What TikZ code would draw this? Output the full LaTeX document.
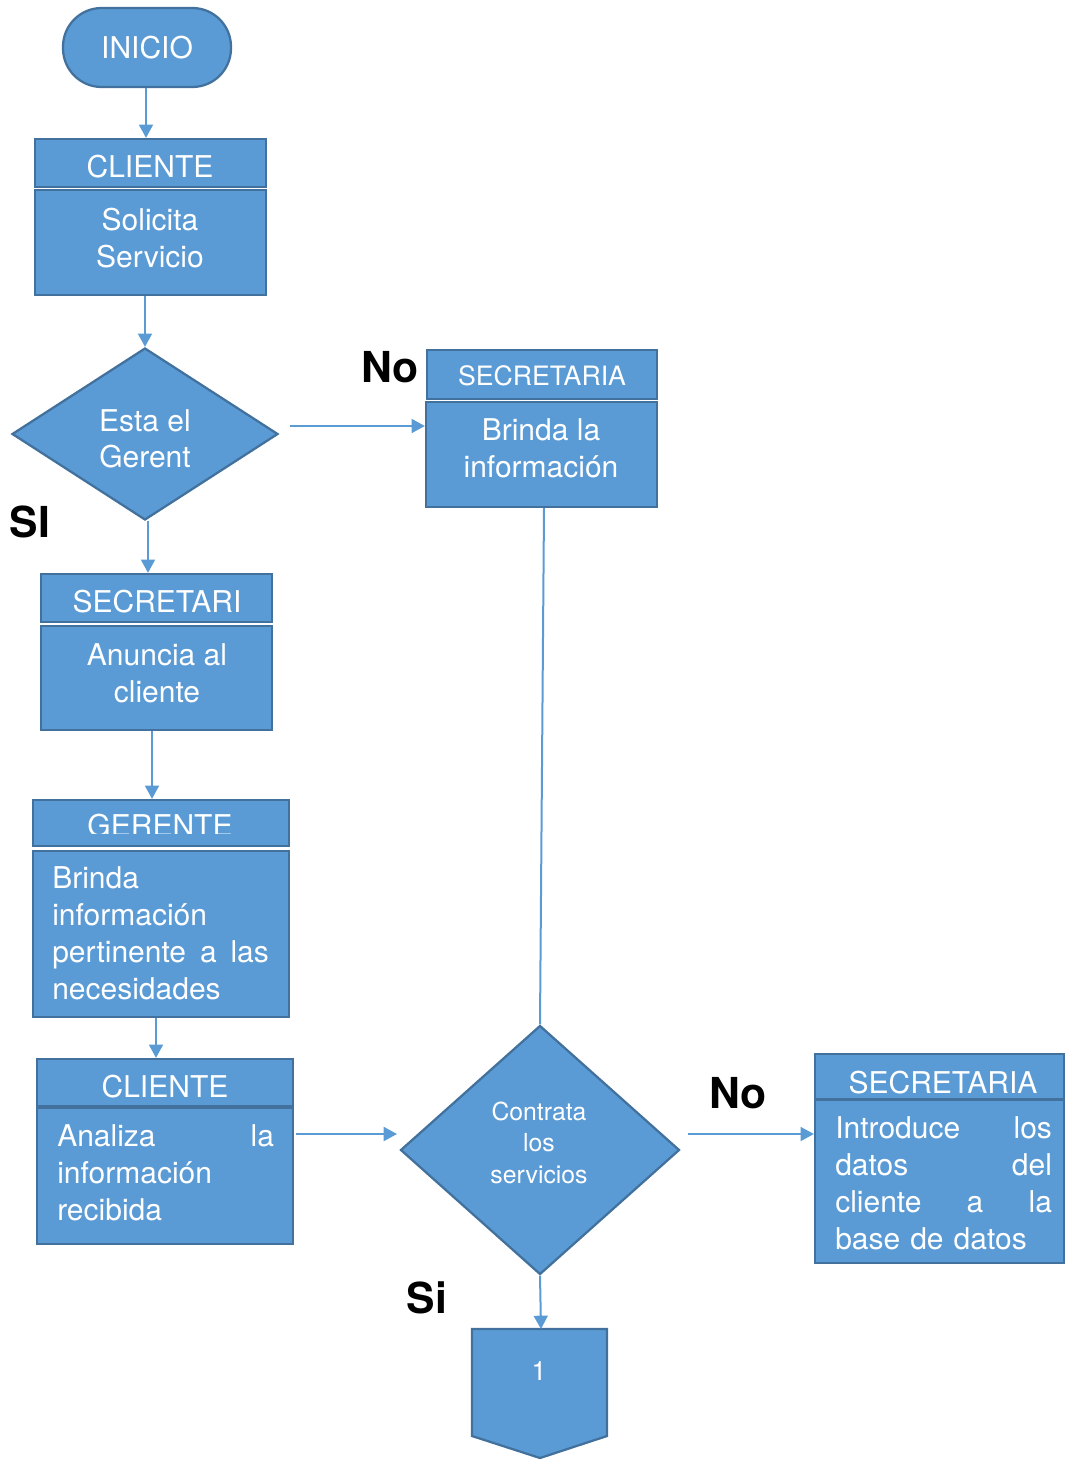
\documentclass[tikz,border=0pt]{standalone}
\usepackage{fontspec}
\setmainfont{TeX Gyre Heros}
\usetikzlibrary{arrows.meta,fit,shapes.geometric}
\definecolor{fillb}{RGB}{91,155,213}
\definecolor{edgeb}{RGB}{65,113,156}
\newcommand\mylines[6]{%
  \foreach \t [count=\i] in {#6}{\node[#1] (#2\i) at (#3,{#4+#5*(\i-1)}) {\t};}}
\begin{document}
\begin{tikzpicture}[x=0.75pt,y=-0.75pt,
  box/.style={draw=edgeb,fill=fillb,line width=1.7pt,inner sep=0pt},
  txt/.style={text=white,font=\fontsize{22.5}{27.75}\selectfont,inner sep=0pt,anchor=base},
  smalltxt/.style={text=white,font=\fontsize{18.6}{23.6}\selectfont,inner sep=0pt,anchor=base},
  headtxt/.style={text=white,font=\fontsize{20}{24}\selectfont,inner sep=0pt,anchor=base},
  justtxt/.style={txt,anchor=base west,text width=162.5pt,align=left},
  lbl/.style={font=\bfseries\fontsize{32}{36}\selectfont,inner sep=0pt,anchor=base},
  conn/.style={draw=fillb,line width=1.5pt},
  arr/.style={conn,-{Triangle[length=10pt,width=10.5pt]}}]
\useasboundingbox (0,0) rectangle (1065,1460);

% INICIO
\node[box,rounded corners=29pt,fit={(63,8)(231,87)}] (inicio) {};
\node[txt] (tinicio) at (147,58) {INICIO};

% CLIENTE 1
\node[box,fit={(35,139)(266,187)}] (c1h) {};
\node[box,fit={(35,190)(266,295)}] (c1b) {};
\node[txt] (tc1h) at (150,177) {CLIENTE};
\mylines{txt}{tc1b}{150}{230}{37}{Solicita,Servicio}

% Diamond 1
\node[box,diamond,minimum width=199.5pt,minimum height=129pt] (d1) at (145,434) {};
\mylines{txt}{td1}{145}{431}{36.5}{Esta el,Gerent}

% SECRETARIA top right
\node[box,fit={(427,350)(657,399)}] (s1h) {};
\node[box,fit={(426,402)(657,507)}] (s1b) {};
\node[headtxt] (ts1h) at (542,385) {SECRETARIA};
\mylines{txt}{ts1b}{541}{440}{37}{Brinda la,información}

% SECRETARI
\node[box,fit={(41,574)(272,622)}] (s2h) {};
\node[box,fit={(41,626)(272,730)}] (s2b) {};
\node[txt] (ts2h) at (157,612) {SECRETARI};
\mylines{txt}{ts2b}{157}{665}{37}{Anuncia al,cliente}

% GERENTE
\node[box,fit={(33,800)(289,846)}] (gh) {};
\node[box,fit={(33,851)(289,1017)}] (gb) {};
\begin{scope}
\clip (33,800) rectangle (289,833);
\node[txt] (tgh) at (160,836) {GERENTE};
\end{scope}
\mylines{justtxt}{tgb}{52}{888}{37}{Brinda,información,pertinente\hfill a\hfill las,necesidades}

% CLIENTE 2
\node[box,fit={(37,1059)(293,1106)}] (c2h) {};
\node[box,fit={(37,1108)(293,1244)}] (c2b) {};
\node[txt] (tc2h) at (165,1097) {CLIENTE};
\mylines{justtxt}{tc2b}{57}{1146}{37}{Analiza\hfill la,información,recibida}

% Diamond 2
\node[box,diamond,minimum width=209.25pt,minimum height=186.75pt] (d2) at (540,1150) {};
\mylines{smalltxt}{td2}{539}{1120}{31.5}{Contrata,los,servicios}

% SECRETARIA lower right
\node[box,fit={(815,1054)(1064,1099)}] (s3h) {};
\node[box,fit={(815,1100)(1064,1263)}] (s3b) {};
\node[txt] (ts3h) at (943,1093) {SECRETARIA};
\mylines{justtxt}{ts3b}{835}{1138}{37}{Introduce\hfill los,datos\hfill del,cliente\hfill a\hfill la,base de datos}

% Off-page connector
\path[box] (472,1329) -- (607,1329) -- (607,1436) -- (540,1458) -- (472,1436) -- cycle;
\coordinate (off) at (541,1329);
\node[txt,font=\fontsize{20}{24}\selectfont] (toff) at (539,1380) {1};

% Labels
\node[lbl] (no1) at (390,382) {No};
\node[lbl] (si1) at (30,537) {SI};
\node[lbl] (no2) at (738,1108) {No};
\node[lbl] (si2) at (427,1313) {Si};

% Connectors
\draw[arr] (146,0 |- inicio.south) -- (146,0 |- c1h.north);
\draw[arr] (145,0 |- c1b.south) -- (145,0 |- d1.north);
\draw[arr] (290,426) -- (s1b.west |- 0,426);
\draw[arr] (148,0 |- d1.south) -- (148,0 |- s2h.north);
\draw[conn] (544,0 |- s1b.south) -- (d2.north);
\draw[arr] (152,0 |- s2b.south) -- (152,0 |- gh.north);
\draw[arr] (156,0 |- gb.south) -- (156,0 |- c2h.north);
\draw[arr] (296,1134) -- (397,1134);
\draw[arr] (688,1134) -- (s3b.west |- 0,1134);
\draw[arr] (d2.south) -- (off);
\end{tikzpicture}
\end{document}
